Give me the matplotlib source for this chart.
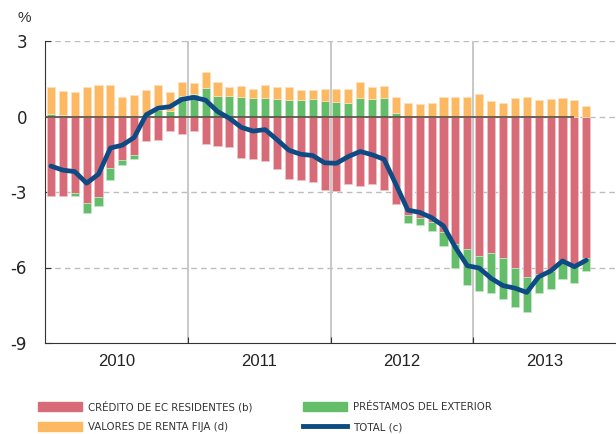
import numpy as np
import matplotlib
matplotlib.use("Agg")
import matplotlib.pyplot as plt
from matplotlib.patches import Rectangle
from matplotlib.lines import Line2D

# 1. Monthly values, Jan 2010 - Oct 2013 (percent)
years = ["2010", "2011", "2012", "2013"]

credito = [-3.15, -3.16, -3.05, -3.45, -3.19, -2.06, -1.72, -1.51, -0.98, -0.92,
           -0.57, -0.70, -0.58, -1.11, -1.16, -1.23, -1.64, -1.68, -1.77, -2.10,
           -2.50, -2.54, -2.59, -2.92, -2.95, -2.67, -2.78, -2.70, -2.91, -3.47,
           -3.93, -4.02, -4.20, -4.60, -5.06, -5.26, -5.54, -5.42, -5.63, -6.02,
           -6.37, -6.24, -6.12, -5.72, -5.86, -5.63]

prestamos = [0.11, 0.04, -0.11, -0.37, -0.37, -0.46, -0.21, -0.17, 0.10, 0.25,
             0.23, 0.82, 0.88, 1.14, 0.82, 0.81, 0.78, 0.74, 0.74, 0.69,
             0.64, 0.65, 0.68, 0.61, 0.57, 0.54, 0.73, 0.68, 0.74, 0.15,
             -0.31, -0.28, -0.36, -0.54, -0.96, -1.43, -1.38, -1.61, -1.61, -1.54,
             -1.39, -0.79, -0.72, -0.75, -0.75, -0.49]

valores = [1.07, 0.98, 0.97, 1.17, 1.27, 1.27, 0.79, 0.85, 0.95, 1.00,
           0.73, 0.56, 0.46, 0.62, 0.54, 0.35, 0.43, 0.36, 0.51, 0.49,
           0.52, 0.39, 0.36, 0.47, 0.52, 0.54, 0.66, 0.50, 0.47, 0.62,
           0.52, 0.50, 0.54, 0.78, 0.76, 0.76, 0.90, 0.61, 0.52, 0.74,
           0.77, 0.64, 0.69, 0.72, 0.65, 0.41]

total = [-1.97, -2.13, -2.19, -2.65, -2.29, -1.25, -1.14, -0.83, 0.07, 0.33,
         0.39, 0.68, 0.76, 0.65, 0.20, -0.07, -0.43, -0.58, -0.52, -0.92,
         -1.34, -1.50, -1.55, -1.84, -1.86, -1.59, -1.39, -1.52, -1.70, -2.70,
         -3.72, -3.81, -4.02, -4.35, -5.20, -5.93, -6.02, -6.43, -6.72, -6.82,
         -6.99, -6.37, -6.14, -5.74, -5.97, -5.71]

RED = "#d76b77"
GREEN = "#63bd69"
ORANGE = "#fdb962"
BLUE = "#0e4a84"

cr = np.array(credito)
pr = np.array(prestamos)
va = np.array(valores)
x = np.arange(len(cr))

# 2. Figure and axes
fig = plt.figure(figsize=(6.16, 4.34), dpi=100)
ax = fig.add_axes([45 / 616, 91 / 434, 571 / 616, 302 / 434])
plt.rcParams["font.family"] = ["Liberation Sans", "DejaVu Sans"]

ax.set_xlim(-0.5, 47.5)
ax.set_ylim(-9, 3)

# grid and year separators
for yv in [3, 0, -3, -6]:
    ax.axhline(yv, color="#bdbdbd", lw=1, ls=(0, (4, 3)), zorder=0)
for xv in [11.5, 23.5, 35.5]:
    ax.axvline(xv, color="#c4c4c4", lw=1.3, zorder=0)

# 3. Stacked bars: positives go up from 0, negatives down from 0
w = 0.68
ax.bar(x, cr, w, color=RED, edgecolor="#f2c4c9", lw=0.5, zorder=2)
pr_bottom = np.where(pr >= 0, 0, cr)
ax.bar(x, pr, w, bottom=pr_bottom, color=GREEN, edgecolor="#c8e8ca", lw=0.5, zorder=2)
ax.bar(x, va, w, bottom=np.clip(pr, 0, None), color=ORANGE, edgecolor="#fde3bf", lw=0.5, zorder=2)

ax.hlines(0, -0.5, 44.0, color="#5b4b44", lw=1.2, zorder=3)
ax.plot(x, total, color=BLUE, lw=3.4, solid_joinstyle="round", solid_capstyle="round", zorder=4)

# 4. Axes styling
for s in ["top", "right"]:
    ax.spines[s].set_visible(False)
ax.spines["left"].set_color("#333333")
ax.spines["bottom"].set_color("#333333")
ax.set_yticks([3, 0, -3, -6, -9])
ax.set_yticklabels(["3", "0", "-3", "-6", "-9"], fontsize=12, color="#222222")
ax.tick_params(axis="y", direction="in", length=4, pad=13, color="#333333")
ax.set_xticks([11.5, 23.5, 35.5])
ax.set_xticklabels([])
ax.tick_params(axis="x", direction="in", length=4, color="#333333")
for i, yr in enumerate(years):
    ax.text(5.5 + 12 * i, -9.75, yr, ha="center", va="center", fontsize=12, color="#222222")

fig.text(18 / 616, 1 - 18 / 434, "%", fontsize=11, color="#333333", va="center")

# 5. Legend drawn by hand (narrow text so it fits like the original)
entries = [
    (38, 406, RED, "CRÉDITO DE EC RESIDENTES (b)", "patch"),
    (38, 426, ORANGE, "VALORES DE RENTA FIJA (d)", "patch"),
    (303, 406, GREEN, "PRÉSTAMOS DEL EXTERIOR", "patch"),
    (303, 426, BLUE, "TOTAL (c)", "line"),
]
for px, py, col, label, kind in entries:
    if kind == "patch":
        fig.patches.append(Rectangle((px / 616, 1 - (py + 4.5) / 434), 44 / 616, 9 / 434,
                                     transform=fig.transFigure, color=col))
    else:
        fig.lines.append(Line2D([px / 616, (px + 44) / 616], [1 - py / 434] * 2,
                                transform=fig.transFigure, color=col, lw=3.5))
    fig.text((px + 50) / 616, 1 - (py + 1) / 434, label, fontsize=8.2,
             family=["DejaVu Sans"], stretch="condensed",
             color="#333333", va="center")

fig.savefig("out.png", dpi=100)
